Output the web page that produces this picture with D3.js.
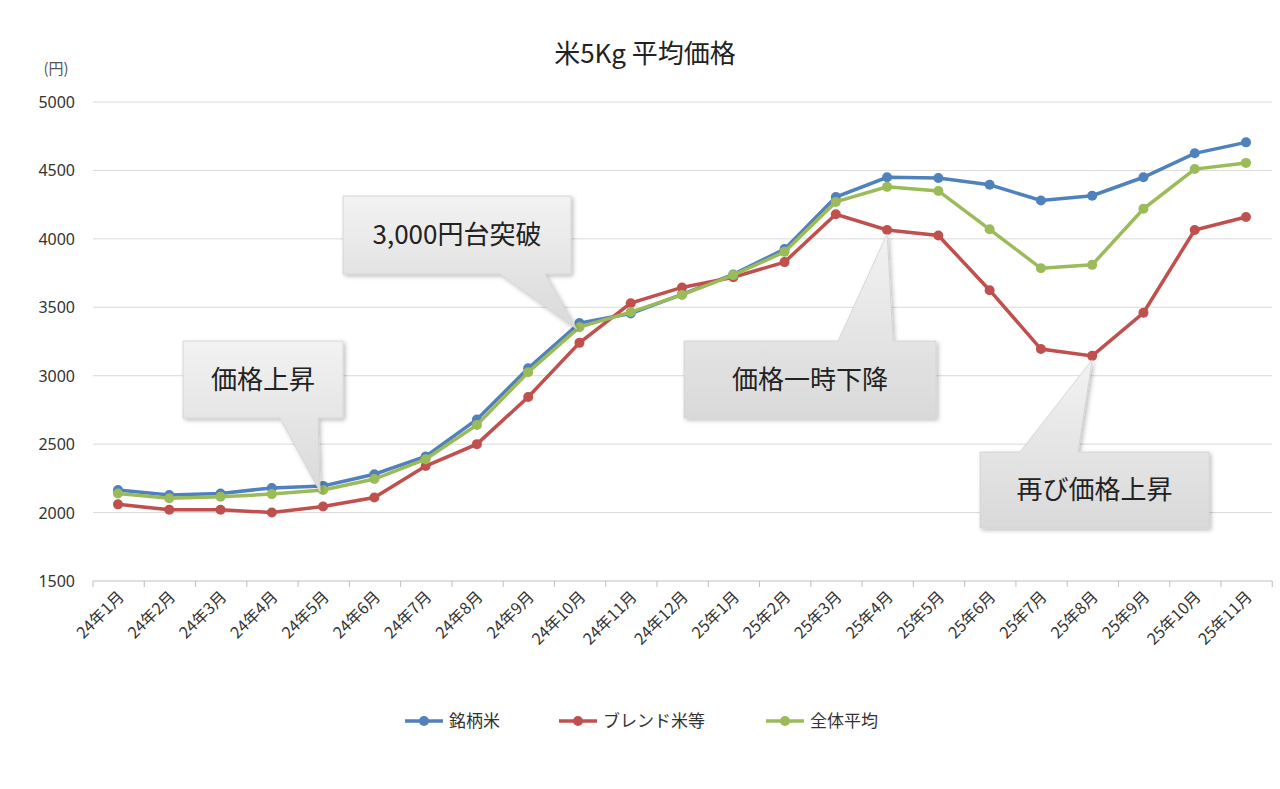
<!DOCTYPE html>
<html><head><meta charset="utf-8">
<script src="https://cdn.jsdelivr.net/npm/d3@7"></script>
<style>body{margin:0;background:#fff;font-family:"Noto Sans CJK JP","Noto Sans",sans-serif;}</style>
</head><body>
<script>
var months = ["24年1月","24年2月","24年3月","24年4月","24年5月","24年6月","24年7月","24年8月","24年9月","24年10月","24年11月","24年12月",
  "25年1月","25年2月","25年3月","25年4月","25年5月","25年6月","25年7月","25年8月","25年9月","25年10月","25年11月"];
var brand = [2165,2128,2140,2180,2195,2280,2410,2680,3055,3385,3455,3595,3740,3925,4305,4450,4445,4395,4280,4315,4450,4625,4705];
var blend = [2060,2020,2020,2000,2045,2110,2340,2500,2845,3240,3530,3645,3720,3830,4180,4065,4025,3625,3195,3145,3460,4065,4160];
var average = [2140,2105,2115,2135,2165,2245,2390,2640,3025,3355,3465,3590,3735,3905,4270,4380,4350,4070,3785,3810,4220,4510,4555];
var yTicks = [1500,2000,2500,3000,3500,4000,4500,5000];
var seriesNames = ["銘柄米","ブレンド米等","全体平均"];
var colors = ["#4f81bd","#c0504d","#9bbb59"];
// callouts: text, box [x0,y0,x1,y1], target month index / series value
var callouts = [
  {text:"3,000円台突破", box:[343,196,571,274], base:[500,545], at:[9,brand[9]]},
  {text:"価格上昇", box:[183,341,343,418], base:[280,318], at:[4,brand[4]]},
  {text:"価格一時下降", box:[684,341,936,418], base:[838,893], at:[15,blend[15]], top:true},
  {text:"再び価格上昇", box:[980,452,1209,528], base:[1020,1078], at:[19,blend[19]], top:true}
];

var svg = d3.select("body").append("svg").attr("width",1280).attr("height",789);
var x = d3.scalePoint().domain(months).range([118,1246]);
var y = d3.scaleLinear().domain([1500,5000]).range([581,102]);

var defs = svg.append("defs");
var gr = defs.append("linearGradient").attr("id","gb").attr("x1",0).attr("y1",0).attr("x2",0).attr("y2",1);
gr.append("stop").attr("offset","0").attr("stop-color","#f2f2f2");
gr.append("stop").attr("offset","1").attr("stop-color","#d9d9d9");
var f = defs.append("filter").attr("id","sh").attr("x","-10%").attr("y","-10%").attr("width","130%").attr("height","130%");
f.append("feDropShadow").attr("dx",2).attr("dy",2).attr("stdDeviation",2).attr("flood-color","#000").attr("flood-opacity",0.25);

svg.append("text").attr("x",645).attr("y",63).attr("text-anchor","middle").attr("font-size",26).attr("fill","#222").text("米5Kg 平均価格");
svg.append("text").attr("x",56).attr("y",74).attr("text-anchor","middle").attr("font-size",15).attr("fill","#555").text("(円)");

svg.append("g").selectAll("line").data(yTicks.slice(1)).enter().append("line")
  .attr("x1",93).attr("x2",1272).attr("y1",d=>y(d)).attr("y2",d=>y(d)).attr("stroke","#d9d9d9");
svg.append("g").selectAll("text").data(yTicks).enter().append("text")
  .attr("x",75).attr("y",d=>y(d)+6).attr("text-anchor","end").attr("font-size",16).attr("font-family","Noto Sans, sans-serif").attr("fill","#333").text(d=>d);
svg.append("line").attr("x1",93).attr("x2",1272).attr("y1",581).attr("y2",581).attr("stroke","#bfbfbf");
var step = x.step();
svg.append("g").selectAll("line").data(d3.range(months.length+1)).enter().append("line")
  .attr("x1",i=>93+i*step).attr("x2",i=>93+i*step).attr("y1",581).attr("y2",587).attr("stroke","#bfbfbf");
svg.append("g").selectAll("text").data(months).enter().append("text")
  .attr("transform",d=>`translate(${x(d)+7},${598}) rotate(-45)`).attr("text-anchor","end")
  .attr("font-size",16).attr("fill","#333").text(d=>d);

var line = d3.line().x((d,i)=>x(months[i])).y(d=>y(d));
[brand,blend,average].forEach(function(s,k){
  svg.append("path").attr("d",line(s)).attr("fill","none").attr("stroke",colors[k]).attr("stroke-width",3.5);
  svg.append("g").selectAll("circle").data(s).enter().append("circle")
    .attr("cx",(d,i)=>x(months[i])).attr("cy",d=>y(d)).attr("r",5).attr("fill",colors[k]);
});

callouts.forEach(function(c){
  var b=c.box, tx=x(months[c.at[0]]), ty=y(c.at[1]);
  var g = svg.append("g").attr("filter","url(#sh)");
  var p = d3.path();
  p.moveTo(b[0],b[1]);
  if(c.top){p.lineTo(c.base[0],b[1]);p.lineTo(tx,ty+4);p.lineTo(c.base[1],b[1]);}
  p.lineTo(b[2],b[1]);p.lineTo(b[2],b[3]);
  if(!c.top){p.lineTo(c.base[1],b[3]);p.lineTo(tx-3,ty+6);p.lineTo(c.base[0],b[3]);}
  p.lineTo(b[0],b[3]);p.closePath();
  g.append("path").attr("d",p.toString()).attr("fill","url(#gb)").attr("stroke","#d0d0d0").attr("stroke-width",0.8);
  svg.append("text").attr("x",(b[0]+b[2])/2).attr("y",(b[1]+b[3])/2+9).attr("text-anchor","middle")
    .attr("font-size",26).attr("fill","#222").text(c.text);
});

var lg = svg.append("g").selectAll("g").data(seriesNames).enter().append("g")
  .attr("transform",(d,i)=>`translate(${[405,559,766][i]},721)`);
lg.append("line").attr("x1",0).attr("x2",38).attr("stroke",(d,i)=>colors[i]).attr("stroke-width",3.5);
lg.append("circle").attr("cx",19).attr("r",5).attr("fill",(d,i)=>colors[i]);
lg.append("text").attr("x",44).attr("y",6).attr("font-size",17).attr("fill","#333").text(d=>d);
</script>
</body></html>
